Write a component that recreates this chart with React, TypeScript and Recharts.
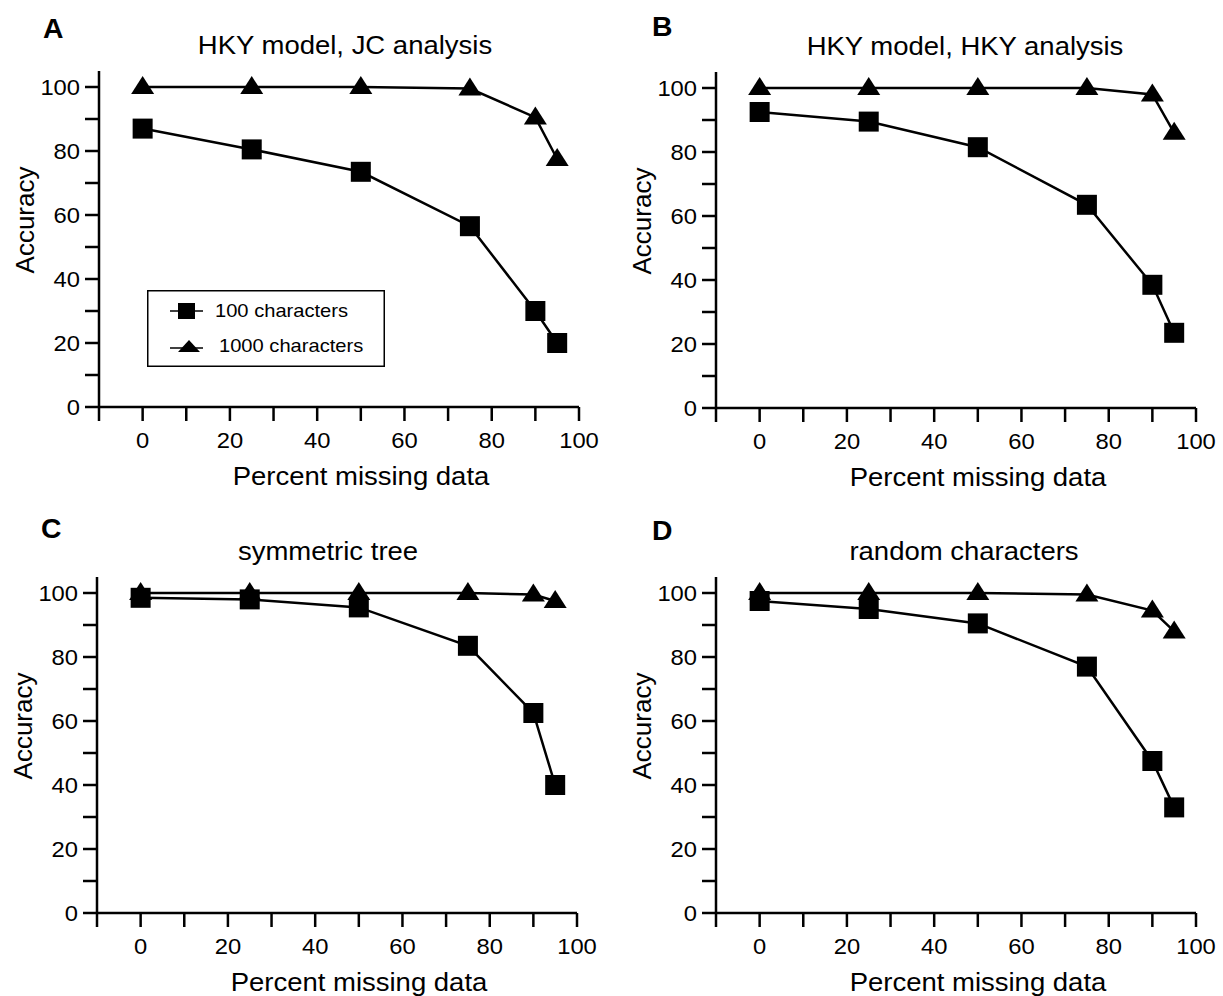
import React from 'react'
import { LineChart, Line, XAxis, YAxis, Legend } from 'recharts'

// percent of missing data in each simulation
const missingPct = [0, 25, 50, 75, 90, 95]

// accuracy per panel
const jcAnalysis100 = [87, 80.5, 73.5, 56.5, 30, 20]
const jcAnalysis1000 = [100, 100, 100, 99.5, 90.5, 77.5]
const hkyAnalysis100 = [92.5, 89.5, 81.5, 63.5, 38.5, 23.5]
const hkyAnalysis1000 = [100, 100, 100, 100, 98, 86]
const symTree100 = [98.5, 98, 95.5, 83.5, 62.5, 40]
const symTree1000 = [100, 100, 100, 100, 99.5, 97.5]
const randomChars100 = [97.5, 95, 90.5, 77, 47.5, 33]
const randomChars1000 = [100, 100, 100, 99.5, 94.5, 88]

const seriesNames = ['100 characters', '1000 characters']
const panelLetters = ['A', 'B', 'C', 'D']
const panelTitles = [
  'HKY model, JC analysis',
  'HKY model, HKY analysis',
  'symmetric tree',
  'random characters',
]
const xTitle = 'Percent missing data'
const yTitle = 'Accuracy'

const xTicks = [-10, 0, 10, 20, 30, 40, 50, 60, 70, 80, 90, 100]
const yTicks = [0, 10, 20, 30, 40, 50, 60, 70, 80, 90, 100]
const labelledTicks = [0, 20, 40, 60, 80, 100]

const FONT = '"Liberation Sans", Arial, Helvetica, sans-serif'
const STRETCH = 1.15 // the scanned figure is a bit wider than plain Helvetica

// plot geometry (px)
const PLOT_W = 480
const PLOT_H = 336
const Y_AXIS_W = 99
const X_AXIS_H = 83
const RIGHT = 24

const layout = [
  { left: 99, top: 71, letterX: 43, letterY: 38, titleDx: 6 },
  { left: 716, top: 72, letterX: 652, letterY: 36, titleDx: 9 },
  { left: 97, top: 577, letterX: 41, letterY: 538, titleDx: -9 },
  { left: 716, top: 577, letterX: 652, letterY: 540, titleDx: 8 },
]

const panelSeries = [
  [jcAnalysis100, jcAnalysis1000],
  [hkyAnalysis100, hkyAnalysis1000],
  [symTree100, symTree1000],
  [randomChars100, randomChars1000],
]

function Stretched({ x, y, size, anchor = 'start', weight = 'normal', stretch = STRETCH, children }: any) {
  return (
    <text
      transform={`translate(${x} ${y}) scale(${stretch} 1)`}
      textAnchor={anchor}
      fontSize={size}
      fontWeight={weight}
      fontFamily={FONT}
      fill="#000"
    >
      {children}
    </text>
  )
}

function XTick({ x, y, payload }: any) {
  if (!labelledTicks.includes(payload.value)) return <g />
  return <Stretched x={x} y={y + 16} size={22} stretch={1.08} anchor="middle">{payload.value}</Stretched>
}

function YTick({ x, y, payload }: any) {
  if (!labelledTicks.includes(payload.value)) return <g />
  return <Stretched x={x} y={y + 8} size={22} stretch={1.08} anchor="end">{payload.value}</Stretched>
}

function Square(props: any) {
  const { cx, cy, index } = props
  if (cx == null || cy == null) return <g key={`sq-${index}`} />
  return <rect key={`sq-${index}`} x={cx - 10} y={cy - 10} width={20} height={20} fill="#000" />
}

function Triangle(props: any) {
  const { cx, cy, index } = props
  if (cx == null || cy == null) return <g key={`tr-${index}`} />
  return (
    <path
      key={`tr-${index}`}
      d={`M${cx} ${cy - 11} L${cx + 11.5} ${cy + 7} L${cx - 11.5} ${cy + 7} Z`}
      fill="#000"
    />
  )
}

function LegendBox() {
  return (
    <svg width={238} height={77} style={{ display: 'block' }}>
      <rect x={0.75} y={0.75} width={236.5} height={75.5} fill="#fff" stroke="#000" strokeWidth={1.5} />
      <line x1={23} x2={56} y1={21} y2={21} stroke="#000" strokeWidth={1.5} />
      <rect x={31} y={13} width={17} height={16} fill="#000" />
      <Stretched x={68} y={27} size={17.5}>{seriesNames[0]}</Stretched>
      <line x1={23} x2={56} y1={58} y2={58} stroke="#000" strokeWidth={1.5} />
      <path d="M42 50 L53 62 L31 62 Z" fill="#000" />
      <Stretched x={72} y={62} size={17.5}>{seriesNames[1]}</Stretched>
    </svg>
  )
}

function Panel({ index }: { index: number }) {
  const pos = layout[index]
  const [s100, s1000] = panelSeries[index]
  const data = missingPct.map((pct, i) => ({ pct, c100: s100[i], c1000: s1000[i] }))
  const width = Y_AXIS_W + PLOT_W + RIGHT
  const height = 71 + PLOT_H + X_AXIS_H

  return (
    <div style={{ position: 'absolute', left: pos.left - Y_AXIS_W, top: pos.top - 71 }}>
      <LineChart width={width} height={height} data={data} margin={{ top: 71, right: RIGHT, left: 0, bottom: 0 }}>
        <XAxis
          type="number"
          dataKey="pct"
          domain={[-10, 100]}
          ticks={xTicks}
          interval={0}
          height={X_AXIS_H}
          tickSize={14}
          tickMargin={11}
          axisLine={{ stroke: '#000', strokeWidth: 2.5 }}
          tickLine={{ stroke: '#000', strokeWidth: 2.5 }}
          tick={XTick}
        />
        <YAxis
          type="number"
          domain={[0, 105]}
          ticks={yTicks}
          interval={0}
          width={Y_AXIS_W}
          tickSize={14}
          tickMargin={5}
          axisLine={{ stroke: '#000', strokeWidth: 2.5 }}
          tickLine={{ stroke: '#000', strokeWidth: 2.5 }}
          tick={YTick}
        />
        {index === 0 && (
          <Legend
            layout="horizontal"
            verticalAlign="middle"
            align="center"
            content={() => <LegendBox />}
            wrapperStyle={{ left: 147, top: 290, width: 238, height: 77 }}
          />
        )}
        <Line
          type="linear"
          dataKey="c100"
          name={seriesNames[0]}
          stroke="#000"
          strokeWidth={2.5}
          dot={Square}
          activeDot={false}
          isAnimationActive={false}
        />
        <Line
          type="linear"
          dataKey="c1000"
          name={seriesNames[1]}
          stroke="#000"
          strokeWidth={2.5}
          dot={Triangle}
          activeDot={false}
          isAnimationActive={false}
        />
      </LineChart>
    </div>
  )
}

export default function App() {
  return (
    <div
      style={{
        position: 'absolute',
        left: 0,
        top: 0,
        width: 1223,
        height: 996,
        overflow: 'hidden',
        background: '#fff',
      }}
    >
      <svg width={1223} height={996} style={{ position: 'absolute', left: 0, top: 0 }}>
        {layout.map((p, i) => {
          const yMid = p.top + PLOT_H / 2 - 19
          const xLab = p.left - 74
          return (
            <g key={i}>
              <Stretched x={p.letterX} y={p.letterY} size={27} weight="bold" stretch={1.05}>{panelLetters[i]}</Stretched>
              <Stretched x={p.left + PLOT_W / 2 + p.titleDx} y={p.top - 17} size={25} stretch={1.1} anchor="middle">
                {panelTitles[i]}
              </Stretched>
              <Stretched x={p.left + 44 + 218} y={p.top + PLOT_H + 78} size={25} stretch={1.1} anchor="middle">
                {xTitle}
              </Stretched>
              <text
                x={xLab}
                y={yMid}
                transform={`rotate(-90 ${xLab} ${yMid})`}
                textAnchor="middle"
                dominantBaseline="central"
                fontSize={26}
                fontFamily={FONT}
                fill="#000"
              >
                {yTitle}
              </text>
            </g>
          )
        })}
      </svg>
      {layout.map((_, i) => (
        <Panel key={i} index={i} />
      ))}
    </div>
  )
}
